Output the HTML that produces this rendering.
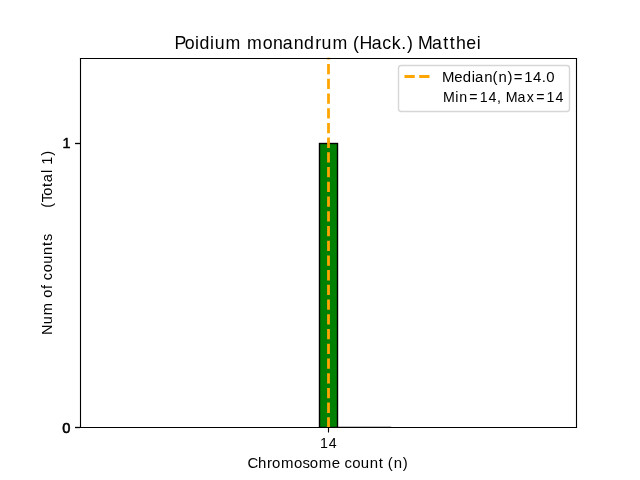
<!DOCTYPE html>
<html lang="en">
<head>
<meta charset="utf-8">
<title>Poidium monandrum (Hack.) Matthei</title>
<style>
  html, body { margin: 0; padding: 0; background: #ffffff; }
  body { width: 640px; height: 480px; overflow: hidden; }
  svg { display: block; will-change: transform; }
  text { font-family: "Liberation Sans", sans-serif; fill: #000000; white-space: pre; }
</style>
</head>
<body>
<svg width="640" height="480" viewBox="0 0 640 480">
  <defs>
    <clipPath id="axclip"><rect x="80" y="57.6" width="496" height="369.6"/></clipPath>
  </defs>

  <!-- figure + axes background -->
  <rect x="0" y="0" width="640" height="480" fill="#ffffff"/>
  <rect x="80" y="57.6" width="496" height="369.6" fill="#ffffff"/>

  <!-- bar + median line (clipped to axes) -->
  <g clip-path="url(#axclip)">
    <line x1="328.5" y1="427.5" x2="391.2" y2="427.5" stroke="#000000" stroke-width="1.389"/>
    <rect x="319.5" y="143.5" width="18" height="284" fill="#008000" stroke="#000000" stroke-width="1.389" stroke-linejoin="miter"/>
    <line x1="328.5" y1="427.6" x2="328.5" y2="57.6" stroke="#ffa500" stroke-width="2.778" stroke-dasharray="10.278 4.444" stroke-linecap="butt"/>
  </g>

  <!-- ticks (y ticks are over-drawn three times like the source plot) -->
  <g stroke="#000000" stroke-width="1.111" stroke-linecap="butt">
    <line x1="328.5" y1="427.5" x2="328.5" y2="432.5"/>
    <line x1="80.5" y1="427.5" x2="75.12" y2="427.5"/>
    <line x1="80.5" y1="427.5" x2="75.12" y2="427.5"/>
    <line x1="80.5" y1="427.5" x2="75.12" y2="427.5"/>
    <line x1="80.5" y1="143.5" x2="75.12" y2="143.5"/>
    <line x1="80.5" y1="143.5" x2="75.12" y2="143.5"/>
    <line x1="80.5" y1="143.5" x2="75.12" y2="143.5"/>
  </g>

  <!-- spines -->
  <g stroke="#000000" stroke-width="1.111" stroke-linecap="square" fill="none">
    <line x1="80.5" y1="427.5" x2="80.5" y2="58.5"/>
    <line x1="576.5" y1="427.5" x2="576.5" y2="58.5"/>
    <line x1="80.5" y1="427.5" x2="576.5" y2="427.5"/>
    <line x1="80.5" y1="58.5" x2="576.5" y2="58.5"/>
  </g>

  <!-- tick labels -->
  <text id="t_x14" transform="translate(319.54 448.27) scale(1.0076 1)" font-size="14.11" x="0.39 9.26" y="0" xml:space="preserve">14</text>
  <text id="t_y0" transform="translate(62.03 433.07) scale(1.0020 1)" font-size="14.66" x="0.33" y="0" xml:space="preserve" stroke="#000000" stroke-width="0.60" stroke-linejoin="round">0</text>
  <text id="t_y1" transform="translate(62.15 147.99) scale(1.0014 1)" font-size="14.36" x="0.34" y="0" xml:space="preserve" stroke="#000000" stroke-width="0.50" stroke-linejoin="round">1</text>

  <!-- axis labels -->
  <text id="t_xlabel" transform="translate(248.02 467.79) scale(1.0316 1)" font-size="14.51" x="-0.62 9.69 18.53 23.35 32.05 44.68 52.81 59.82 68.53 81.20 89.30 93.45 101.02 109.38 117.92 126.73 131.47 135.55 141.30 150.10" y="0" xml:space="preserve">Chromosome count (n)</text>
  <text id="t_ylabel" transform="translate(51.67 335.04) rotate(-90) scale(0.9866 1)" font-size="14.73" x="-0.06 10.85 20.14 33.07 37.72 46.73 51.19 55.64 63.56 72.30 81.23 90.38 95.36 102.50 106.93 111.37 115.80 120.24 124.67 129.03 134.48 141.10 150.18 154.76 164.14 167.75 172.49 181.84" y="0" xml:space="preserve">Num of counts      (Total 1)</text>

  <!-- title -->
  <text id="t_title" transform="translate(174.99 48.82) scale(1.0121 1)" font-size="17.56" x="-0.62 9.55 19.74 24.21 34.68 39.21 50.03 65.33 71.27 86.74 96.95 106.49 117.33 127.58 138.48 144.80 155.63 170.93 175.96 182.27 194.31 204.71 214.29 223.59 229.34 235.03 240.01 253.96 265.17 271.59 277.62 287.86 298.12" y="0" xml:space="preserve">Poidium monandrum (Hack.) Matthei</text>

  <!-- legend -->
  <rect x="398.5" y="65.5" width="171" height="46" rx="2.78" ry="2.78" fill="#ffffff" fill-opacity="0.8" stroke="#cccccc" stroke-opacity="0.8" stroke-width="1.389"/>
  <line x1="404.5" y1="76.5" x2="432.28" y2="76.5" stroke="#ffa500" stroke-width="2.778" stroke-dasharray="10.278 4.444" stroke-linecap="butt"/>
  <text id="t_leg1" transform="translate(442.10 81.92) scale(1.0237 1)" font-size="14.59" x="-0.22 11.87 20.20 28.97 32.06 41.18 49.30 55.10 63.96 70.05 80.16 88.91 97.32 101.73" y="0" xml:space="preserve">Median(n)=14.0</text>
  <text id="t_leg2" transform="translate(443.00 102.20) scale(0.9993 1)" font-size="14.21" x="0.08 12.37 16.37 26.32 36.67 45.62 54.01 58.29 62.75 74.47 83.84 93.24 103.60 112.54" y="0" xml:space="preserve">Min=14, Max=14</text>
</svg>
</body>
</html>
